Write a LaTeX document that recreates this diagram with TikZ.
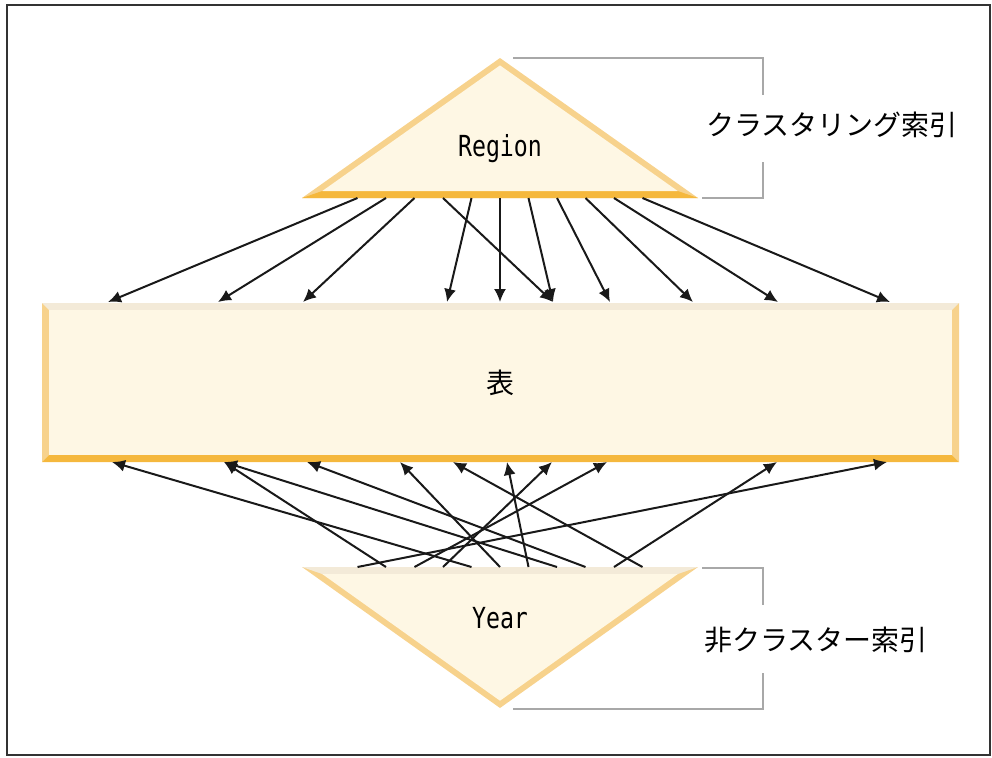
\documentclass[tikz,border=0pt]{standalone}
\usepackage{fontspec}
\setmainfont{Noto Sans CJK JP}
\newfontfamily\monofont[FakeStretch=0.8]{DejaVu Sans Mono}
\usetikzlibrary{arrows.meta}
\definecolor{cream}{HTML}{FEF7E4}
\definecolor{bevellight}{HTML}{F3EAD8}
\definecolor{bevelside}{HTML}{F7D28C}
\definecolor{beveldark}{HTML}{F5B83D}
\definecolor{bracketgray}{HTML}{A8A8A8}

\begin{document}
\begin{tikzpicture}[x=0.5pt,y=-0.5pt,
  arr/.style={-{Latex[length=6.5pt,width=6pt]}, line width=1pt, draw=black!90},
  bracket/.style={bracketgray, line width=1pt},
  jplabel/.style={font=\fontsize{14}{16}\selectfont, inner sep=0pt},
  collabel/.style={font=\monofont\fontsize{14.5}{16}\selectfont, anchor=base, inner sep=0pt}]
\useasboundingbox (0,0) rectangle (992,757);
\draw[line width=1pt, black!80] (7,5) rectangle (990,755);

% table
\fill[bevellight] (42,303) -- (959,303) -- (952,310) -- (49,310) -- cycle;
\fill[bevelside] (42,303) -- (49,310) -- (49,455) -- (42,462) -- cycle;
\fill[bevelside] (959,303) -- (952,310) -- (952,455) -- (959,462) -- cycle;
\fill[beveldark] (42,462) -- (49,455) -- (952,455) -- (959,462) -- cycle;
\fill[cream] (49,310) rectangle (952,455);

% clustered index
\fill[bevelside] (500,58) -- (302,198) -- (698,198) -- cycle;
\fill[beveldark] (302,198) -- (698,198) -- (677.7,191) -- (322.3,191) -- cycle;
\fill[cream] (500,65.4) -- (322.3,191) -- (677.7,191) -- cycle;

% non-clustered index
\fill[bevelside] (302,567) -- (698,567) -- (500,708) -- cycle;
\fill[bevellight] (302,567) -- (698,567) -- (677.8,574) -- (322.2,574) -- cycle;
\fill[cream] (322.2,574) -- (677.8,574) -- (500,700.7) -- cycle;

% brackets
\draw[bracket] (513,58) -- (763,58) -- (763,95);
\draw[bracket] (763,162) -- (763,198) -- (702,198);
\draw[bracket] (702,568) -- (763,568) -- (763,605);
\draw[bracket] (763,673) -- (763,709) -- (513,709);

% labels
\node[collabel] (region) at (500,156) {Region};
\node[collabel] (year) at (500,628) {Year};
\node[jplabel] (table) at (500,383) {表};
\node[jplabel, anchor=west] (clustered) at (706,125) {クラスタリング索引};
\node[jplabel, anchor=west] (nonclustered) at (704,640) {非クラスター索引};

% arrow ends
\foreach \i in {1,...,11} {
  \coordinate (rs\i) at ({500+(\i-6)*28.5},198);
  \coordinate (ys\i) at ({500+(\i-6)*28.5},567);
}
\foreach \x [count=\i] in {108,218,303,447,500,553,610,693,778,890}
  \coordinate (tt\i) at (\x,302);
\foreach \x [count=\i] in {112,224,307,400,453,507,552,607,777,887}
  \coordinate (tb\i) at (\x,462);

% region -> table
\foreach \s/\t in {1/1,2/2,3/3,4/6,5/4,6/5,7/6,8/7,9/8,10/9,11/10}
  \draw[arr] (rs\s) -- (tt\t);
% year -> table
\foreach \s/\t in {1/10,2/2,3/8,4/7,5/1,6/4,7/6,8/2,9/3,10/9,11/5}
  \draw[arr] (ys\s) -- (tb\t);
\end{tikzpicture}
\end{document}
